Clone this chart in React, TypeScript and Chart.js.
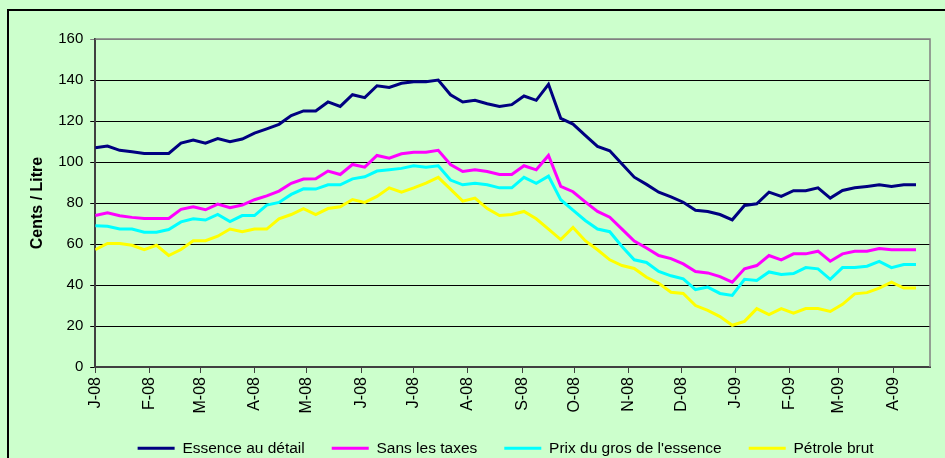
import React, { useEffect, useRef } from 'react';
import { Chart, registerables } from 'chart.js';

Chart.register(...registerables);

// ---- data ----
const startDate = '2008-01-01';
const daysPerPoint = 7;

const essenceAuDetail = [
  107.0, 107.8, 105.7, 105.0, 104.2, 104.2, 104.2, 109.2, 110.7, 109.2, 111.4, 109.9, 111.2, 114.1, 116.2, 118.4, 122.7, 124.9,
  124.9, 129.3, 127.1, 132.8, 131.4, 137.2, 136.4, 138.4, 139.2, 139.2, 140.0, 132.8, 129.3, 130.1, 128.4, 127.1, 128.0,
  132.2, 130.1, 137.9, 121.3, 118.5, 113.0, 107.6, 105.5, 99.0, 92.6, 89.1, 85.3, 83.0, 80.4, 76.5, 75.9,
  74.4, 71.8, 78.8, 79.6, 85.3, 83.2, 86.0, 86.0, 87.4, 82.4, 86.1, 87.4, 88.1, 88.9, 88.1, 88.9, 88.9,
];
const sansLesTaxes = [
  73.9, 75.2, 73.8, 73.0, 72.5, 72.5, 72.5, 76.9, 78.2, 76.7, 79.5, 77.7, 79.0, 81.6, 83.5, 85.8, 89.6, 91.7,
  91.8, 95.6, 93.9, 98.8, 97.5, 103.2, 101.9, 104.0, 104.8, 104.8, 105.7, 98.8, 95.4, 96.2, 95.4, 93.9, 93.9,
  98.2, 96.2, 103.2, 88.1, 85.5, 80.6, 75.9, 73.1, 67.3, 61.4, 58.1, 54.4, 52.9, 50.3, 46.6, 45.9,
  44.1, 41.4, 47.9, 49.5, 54.4, 52.3, 55.2, 55.2, 56.5, 51.6, 55.2, 56.5, 56.5, 57.8, 57.2, 57.2, 57.2,
];
const prixDuGros = [
  68.9, 68.7, 67.3, 67.3, 65.8, 65.8, 67.1, 70.8, 72.3, 71.7, 74.4, 71.0, 73.9, 73.9, 79.0, 80.3, 84.2, 86.9,
  86.8, 88.9, 88.9, 91.8, 92.8, 95.6, 96.2, 96.9, 98.2, 97.5, 98.2, 91.2, 88.9, 89.6, 88.9, 87.4, 87.4,
  92.5, 89.6, 93.1, 81.6, 76.5, 71.5, 67.3, 66.0, 58.8, 52.3, 51.0, 46.6, 44.5, 43.0, 37.8, 39.0,
  35.9, 34.9, 42.8, 42.2, 46.4, 45.1, 45.6, 48.5, 47.9, 42.8, 48.5, 48.5, 49.2, 51.5, 48.5, 50.0, 50.0,
];
const petroleBrut = [
  57.2, 60.3, 60.3, 59.4, 57.3, 59.4, 54.4, 57.3, 61.6, 61.6, 63.8, 67.3, 66.0, 67.3, 67.3, 72.3, 74.4, 77.3,
  74.4, 77.3, 78.2, 81.7, 80.3, 83.2, 87.4, 85.3, 87.4, 89.7, 92.5, 86.8, 80.9, 82.4, 77.3, 73.9, 74.4,
  75.9, 72.3, 67.3, 62.2, 68.1, 61.6, 57.2, 52.3, 49.5, 48.1, 43.8, 40.9, 36.5, 35.9, 30.0, 27.6,
  24.6, 20.4, 22.3, 28.5, 25.6, 28.5, 26.3, 28.5, 28.5, 27.1, 30.6, 35.7, 36.3, 38.5, 41.4, 38.5, 38.5,
];

const seriesNames = ['Essence au détail', 'Sans les taxes', "Prix du gros de l'essence", 'Pétrole brut'];
const seriesColors = ['#000080', '#FF00FF', '#00FFFF', '#FFFF00'];

const monthTickLabels = ['J-08', 'F-08', 'M-08', 'A-08', 'M-08', 'J-08', 'J-08', 'A-08', 'S-08', 'O-08', 'N-08', 'D-08', 'J-09', 'F-09', 'M-09', 'A-09'];
const monthTickDates = [
  '2008-01-01', '2008-02-01', '2008-03-01', '2008-04-01', '2008-05-01', '2008-06-01', '2008-07-01', '2008-08-01',
  '2008-09-01', '2008-10-01', '2008-11-01', '2008-12-01', '2009-01-01', '2009-02-01', '2009-03-01', '2009-04-01',
];
const axisEndDate = '2009-04-22';
const yMin = 0;
const yMax = 160;
const yStep = 20;
const yTitle = 'Cents / Litre';

const DAY = 86400000;
const dayOffset = (d: string) => Math.round((Date.parse(d) - Date.parse(startDate)) / DAY);
const monthTickDays = monthTickDates.map(dayOffset);

const FONT = '"Liberation Sans", Arial, sans-serif';

const plotFrame = {
  id: 'plotFrame',
  beforeDatasetsDraw(chart: any) {
    const { ctx, chartArea: a } = chart;
    ctx.save();
    ctx.strokeStyle = '#808080';
    ctx.lineWidth = 1.5;
    ctx.beginPath();
    ctx.moveTo(a.left, a.top);
    ctx.lineTo(a.right, a.top);
    ctx.lineTo(a.right, a.bottom);
    ctx.stroke();
    ctx.restore();
  },
};

const legendShift = {
  id: 'legendShift',
  afterLayout(chart: any) {
    const l = chart.legend;
    if (l) {
      l.left -= 7;
      l.right -= 7;
    }
  },
};

export default function App() {
  const ref = useRef<HTMLCanvasElement>(null);

  useEffect(() => {
    document.documentElement.style.background = '#CCFFCC';
    document.body.style.background = '#CCFFCC';
    document.body.style.overflow = 'hidden';
    Chart.defaults.font.family = FONT;

    const allSeries = [essenceAuDetail, sansLesTaxes, prixDuGros, petroleBrut];
    const chart = new Chart(ref.current as HTMLCanvasElement, {
      type: 'line',
      data: {
        datasets: allSeries.map((vals, s) => ({
          label: seriesNames[s],
          data: vals.map((y, i) => ({ x: i * daysPerPoint, y })),
          borderColor: seriesColors[s],
          backgroundColor: seriesColors[s],
          borderWidth: 3,
          pointRadius: 0,
          fill: false,
          tension: 0,
        })),
      },
      options: {
        responsive: false,
        animation: false,
        layout: { padding: { left: 8, right: 70, top: 27, bottom: 0 } },
        plugins: {
          tooltip: { enabled: false },
          legend: {
            position: 'bottom',
            fullSize: false,
            labels: {
              usePointStyle: true,
              pointStyle: 'line',
              pointStyleWidth: 37,
              padding: 27,
              color: '#000',
              font: { size: 15.5, family: FONT },
            },
          },
        },
        scales: {
          x: {
            type: 'linear',
            min: 0,
            max: dayOffset(axisEndDate),
            grid: {
              drawOnChartArea: false,
              drawTicks: true,
              tickLength: 10,
              tickBorderDash: [5, 50],
              color: '#404040',
            },
            border: { color: '#404040', width: 2 },
            afterBuildTicks: (scale: any) => {
              scale.ticks = monthTickDays.map((v) => ({ value: v }));
            },
            ticks: {
              autoSkip: false,
              maxRotation: 90,
              minRotation: 90,
              padding: 0,
              color: '#000',
              font: { size: 16, family: FONT },
              callback: (_v: any, i: number) => monthTickLabels[i],
            },
          },
          y: {
            min: yMin,
            max: yMax,
            grid: {
              color: (c: any) => (c.tick && c.tick.value === yMax ? '#808080' : '#000'),
              lineWidth: 1,
              tickLength: 5,
            },
            border: { color: '#404040', width: 2 },
            ticks: { stepSize: yStep, padding: 7, color: '#000', font: { size: 15, family: FONT } },
            title: {
              display: true,
              text: yTitle,
              color: '#000',
              font: { size: 16, weight: 'bold', family: FONT },
              padding: { top: 10, bottom: 4 },
            },
          },
        },
      },
      plugins: [plotFrame, legendShift],
    } as any);
    return () => chart.destroy();
  }, []);

  return (
    <div
      style={{
        position: 'fixed',
        left: 7,
        top: 9,
        width: 1000,
        height: 480,
        border: '2px solid #000',
        boxSizing: 'border-box',
        background: '#CCFFCC',
      }}
    >
      <canvas
        ref={ref}
        width={990}
        height={454}
        style={{ position: 'absolute', left: 1, top: 1, width: 990, height: 454, display: 'block' }}
      />
    </div>
  );
}
